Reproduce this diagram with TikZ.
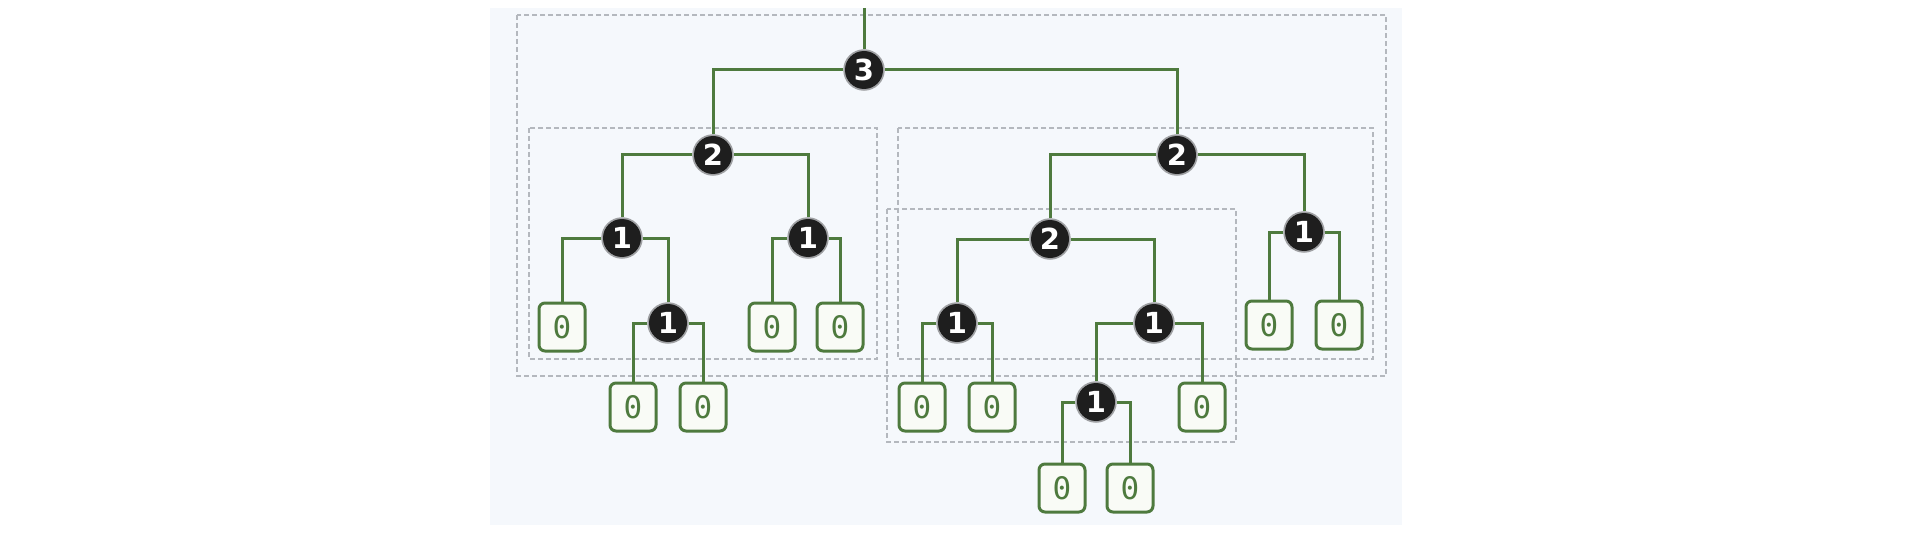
\documentclass[tikz,border=0pt]{standalone}
\usepackage{fontspec}
\newfontfamily\monof{DejaVu Sans Mono}
\newfontfamily\numf{DejaVu Sans}
\definecolor{edgegreen}{HTML}{4E7A3E}
\definecolor{panelbg}{HTML}{F5F8FC}
\definecolor{boxfill}{HTML}{F9FBF6}
\definecolor{nodedark}{HTML}{1E1E1E}
\definecolor{groupgray}{HTML}{B4B8BE}
\tikzset{
  edge/.style={draw=edgegreen, line width=3pt},
  groupbox/.style={draw=groupgray, line width=1.3pt, dash pattern=on 5pt off 3pt},
  cnode/.style={circle, fill=nodedark, minimum size=38pt, inner sep=0pt,
    draw=nodedark, draw opacity=0.4, line width=3.5pt,
    text=white, font=\numf\bfseries\fontsize{29}{31}\selectfont},
  leafbox/.style={rectangle, rounded corners=6pt, draw=edgegreen, line width=3pt,
    fill=boxfill, minimum width=46pt, minimum height=48pt, inner sep=0pt,
    text=edgegreen, font=\monof\fontsize{31}{33}\selectfont}
}
\begin{document}
\begin{tikzpicture}[x=1pt,y=-1pt]
\useasboundingbox (0,0) rectangle (1932,540);
\fill[panelbg] (490,8) rectangle (1402,525);
% group boxes
\draw[groupbox] (517,15) rectangle (1386,376);
\draw[groupbox] (529,128) rectangle (877,359);
\draw[groupbox] (898,128) rectangle (1373,359);
\draw[groupbox] (887,209) rectangle (1236,442);
% nodes
\coordinate (top) at (864,8);
\node[cnode] (r) at (864,70) {3};
\node[cnode] (a) at (713,155) {2};
\node[cnode] (b) at (1177,155) {2};
\node[cnode] (a1) at (622,238) {1};
\node[cnode] (a2) at (808,238) {1};
\node[cnode] (b1) at (1050,239) {2};
\node[cnode] (b2) at (1304,232) {1};
\node[leafbox] (a1l) at (562,327) {0};
\node[cnode] (a1r) at (668,323) {1};
\node[leafbox] (a1rl) at (633,407) {0};
\node[leafbox] (a1rr) at (703,407) {0};
\node[leafbox] (a2l) at (772,327) {0};
\node[leafbox] (a2r) at (840,327) {0};
\node[cnode] (b1l) at (957,323) {1};
\node[cnode] (b1r) at (1154,323) {1};
\node[leafbox] (b1ll) at (922,407) {0};
\node[leafbox] (b1lr) at (992,407) {0};
\node[cnode] (b1rl) at (1096,402) {1};
\node[leafbox] (b1rr) at (1202,407) {0};
\node[leafbox] (b1rll) at (1062,488) {0};
\node[leafbox] (b1rlr) at (1130,488) {0};
\node[leafbox] (b2l) at (1269,325) {0};
\node[leafbox] (b2r) at (1339,325) {0};
% connectors
\draw[edge] (top) -- (r.north);
\draw[edge] (r.west) -| (a.north);
\draw[edge] (r.east) -| (b.north);
\draw[edge] (a.west) -| (a1.north);
\draw[edge] (a.east) -| (a2.north);
\draw[edge] (b.west) -| (b1.north);
\draw[edge] (b.east) -| (b2.north);
\draw[edge] (a1.west) -| (a1l.north);
\draw[edge] (a1.east) -| (a1r.north);
\draw[edge] (a1r.west) -| (a1rl.north);
\draw[edge] (a1r.east) -| (a1rr.north);
\draw[edge] (a2.west) -| (a2l.north);
\draw[edge] (a2.east) -| (a2r.north);
\draw[edge] (b1.west) -| (b1l.north);
\draw[edge] (b1.east) -| (b1r.north);
\draw[edge] (b1l.west) -| (b1ll.north);
\draw[edge] (b1l.east) -| (b1lr.north);
\draw[edge] (b1r.west) -| (b1rl.north);
\draw[edge] (b1r.east) -| (b1rr.north);
\draw[edge] (b1rl.west) -| (b1rll.north);
\draw[edge] (b1rl.east) -| (b1rlr.north);
\draw[edge] (b2.west) -| (b2l.north);
\draw[edge] (b2.east) -| (b2r.north);
\end{tikzpicture}
\end{document}
